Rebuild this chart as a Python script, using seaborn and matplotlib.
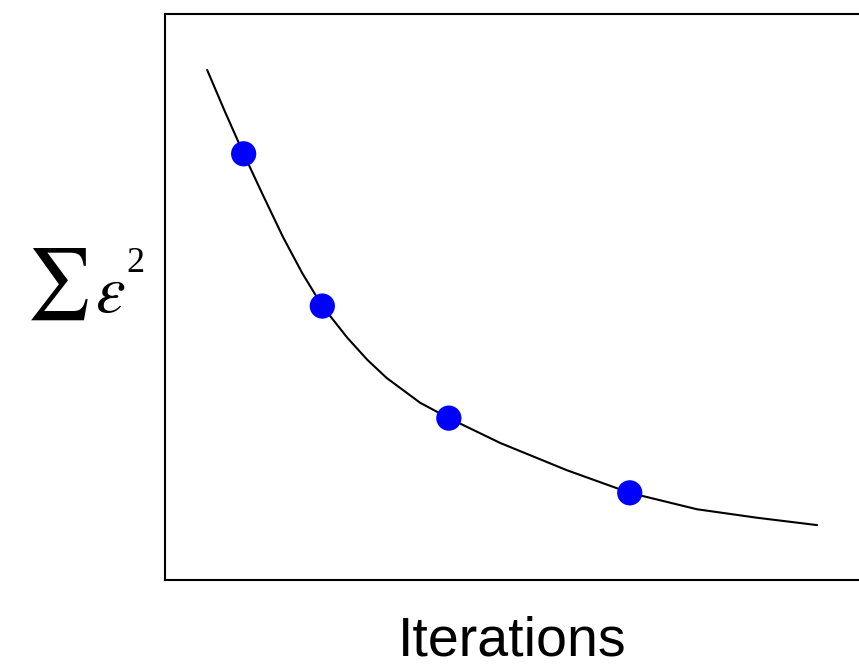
import numpy as np
import pandas as pd
import matplotlib
matplotlib.use("Agg")
import matplotlib.pyplot as plt
import seaborn as sns

# fitted error curve
curve_x = [0.59, 0.84, 1.10, 1.37, 1.65, 1.92, 2.20, 2.55, 2.83, 3.10, 3.57, 3.97,
           4.69, 5.62, 6.50, 7.44, 8.28, 9.12]
curve_y = [9.01, 8.27, 7.53, 6.80, 6.06, 5.42, 4.84, 4.28, 3.89, 3.57, 3.13, 2.86,
           2.42, 1.94, 1.54, 1.25, 1.10, 0.97]

# iteration points
iter_x = [1.10, 2.20, 3.97, 6.50]
iter_y = [7.53, 4.84, 2.86, 1.54]

curve = pd.DataFrame({"x": curve_x, "y": curve_y})
pts = pd.DataFrame({"x": iter_x, "y": iter_y})

sns.set_style("white")
plt.rcParams["mathtext.fontset"] = "stix"
plt.rcParams["text.color"] = "black"

fig = plt.figure(figsize=(8.59, 6.71), dpi=100)
ax = fig.add_axes([165 / 859, 91 / 671, 715 / 859, 566 / 671])

sns.lineplot(data=curve, x="x", y="y", ax=ax, color="black", linewidth=1.5, sort=False)
sns.scatterplot(data=pts, x="x", y="y", ax=ax, color="#0000ff", s=330, edgecolor="none", zorder=3)

ax.set_xlim(0, 10)
ax.set_ylim(0, 10)
ax.set_xticks([])
ax.set_yticks([])
ax.set_xlabel("")
ax.set_ylabel("")
for sp in ax.spines.values():
    sp.set_color("black")
    sp.set_linewidth(1.5)

# y label: sum sign, epsilon and a small raised 2
fig.text(57 / 859, 1 - 284 / 671, r"$\sum$", fontsize=51, ha="center", va="center", color="black")
fig.text(110 / 859, 1 - 312 / 671, r"$\varepsilon$", fontsize=48, ha="center", va="baseline", color="black")
fig.text(135.5 / 859, 1 - 272 / 671, "2", fontsize=26, ha="center", va="baseline",
         family="Liberation Serif", color="black")

fig.text(512 / 859, 1 - 642 / 671, "Iterations", fontsize=40,
         ha="center", va="center", family="Liberation Sans", color="black")

fig.savefig("out.png", dpi=100)
